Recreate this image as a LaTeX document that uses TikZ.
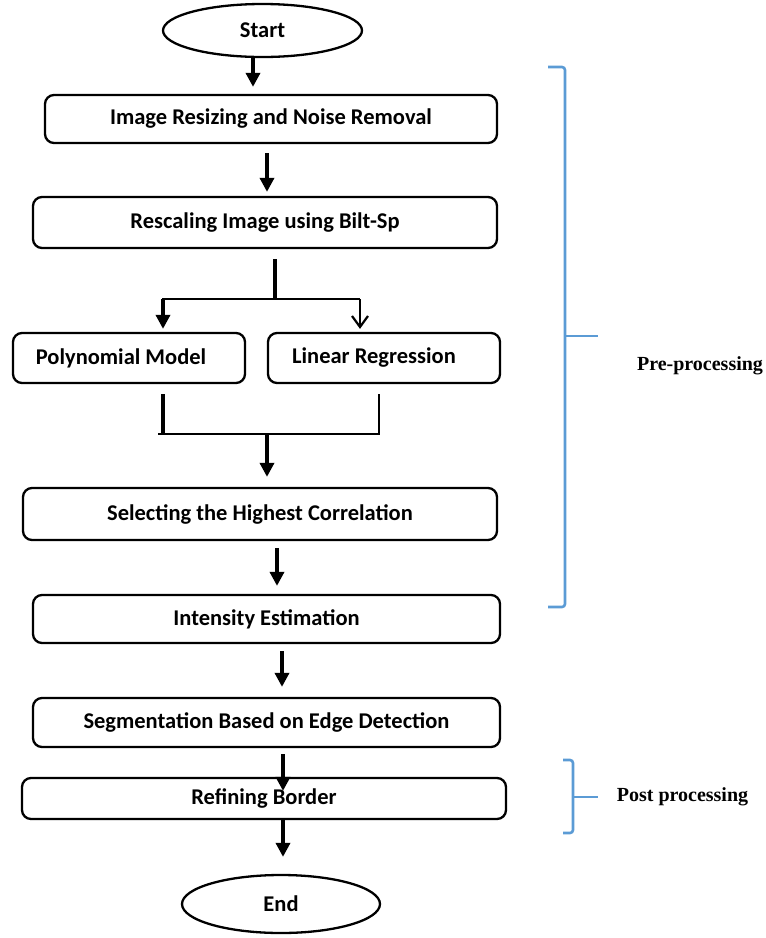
\documentclass[tikz,border=0pt]{standalone}
\usepackage{fontspec}
\setmainfont{Carlito}
\newfontfamily\timesfont{Liberation Serif}
\usetikzlibrary{arrows.meta,calc,shapes.geometric}
\definecolor{bracecol}{RGB}{91,155,213}
\begin{document}
\begin{tikzpicture}[x=1pt,y=-1pt,
  box/.style={draw, line width=2.3pt, rounded corners=9pt, inner sep=0pt,
    font=\bfseries\fontsize{22.5}{26}\selectfont},
  term/.style={draw, ellipse, line width=2.3pt, inner sep=0pt,
    font=\bfseries\fontsize{22.5}{26}\selectfont},
  arr/.style={line width=3.6pt, -{Triangle[width=14pt,length=14pt]}},
  openarr/.style={line width=2.2pt, -{Straight Barb[width=16pt,length=11pt,line width=2.2pt]}},
  thickln/.style={line width=3.6pt},
  thinln/.style={line width=2.3pt},
  bracket/.style={draw=bracecol, line width=2.6pt, rounded corners=3pt},
  lbl/.style={inner sep=0pt, font=\timesfont\bfseries\fontsize{20}{24}\selectfont}
]
\useasboundingbox (0,0) rectangle (766,938);

% nodes
\node[term, minimum width=199pt, minimum height=53pt] (start) at (262.5,30.5) {Start};
\node[box, minimum width=452pt, minimum height=48pt] (b1) at (271,119) {Image Resizing and Noise Removal};
\node[box, minimum width=464pt, minimum height=51pt] (b2) at (265,222.5) {Rescaling Image using Bilt-Sp};
\node[box, minimum width=232pt, minimum height=50pt] (poly) at (129,358) {\kern-16pt Polynomial Model};
\node[box, minimum width=232pt, minimum height=50pt] (lin) at (384,358) {\kern-20pt Linear Regression};
\node[box, minimum width=474pt, minimum height=52pt] (sel) at (260,514) {Selecting the Highest Correlation};
\node[box, minimum width=467pt, minimum height=48pt] (int) at (266.5,619) {Intensity Estimation};
\node[box, minimum width=467pt, minimum height=49pt] (seg) at (266.5,722.5) {Segmentation Based on Edge Detection};
\node[box, minimum width=484pt, minimum height=41pt] (ref) at (264,798.5) {Refining Border};
\node[term, minimum width=198pt, minimum height=58pt] (end) at (281,904) {End};

% connectors
\draw[arr, shorten >=7pt] ([xshift=-9.5pt]start.south) -- ([xshift=-9.5pt]start.south |- b1.north);
\draw[arr, shorten <=9pt, shorten >=4pt] ([xshift=-4pt]b1.south) -- ([xshift=-4pt]b1.south |- b2.north);

\coordinate (sp) at (275,299);
\draw[thickln, shorten <=10pt] ([xshift=10pt]b2.south) -- (sp);
\draw[thinln] ([xshift=33pt]poly.north |- sp) -- ([xshift=-24pt]lin.north |- sp);
\draw[arr, shorten >=3pt] ([xshift=34pt]poly.north |- sp) -- ([xshift=34pt]poly.north);
\draw[openarr, shorten >=3pt] ([xshift=-24pt]lin.north |- sp) -- ([xshift=-24pt]lin.north);

\coordinate (mg) at (267,434);
\draw[thickln, shorten <=10pt] ([xshift=34pt]poly.south) -- ([xshift=34pt]poly.south |- mg);
\draw[thinln, shorten <=10pt] ([xshift=-5pt]lin.south) -- ([xshift=-5pt]lin.south |- mg);
\draw[thinln] ([xshift=29pt]poly.south |- mg) -- ([xshift=-3.9pt]lin.south |- mg);
\draw[arr, shorten >=10pt] (mg) -- (mg |- sel.north);

\draw[arr, shorten <=7pt, shorten >=8pt] ([xshift=17pt]sel.south) -- ([xshift=17pt]sel.south |- int.north);
\draw[arr, shorten <=7pt, shorten >=10pt] ([xshift=15.5pt]int.south) -- ([xshift=15.5pt]int.south |- seg.north);
\draw[arr, shorten <=6pt] ([xshift=16.5pt]seg.south) -- ([xshift=16.5pt,yshift=-14pt]seg.south |- ref.north);
\draw[arr, shorten >=17pt] ([xshift=19pt]ref.south) -- ([xshift=19pt]ref.south |- end.north);

% brackets
\draw[bracket] (548,67) -- (565,67) -- (565,607) -- (548,607);
\draw[bracket] (565,336) -- (598,336);
\node[lbl] (pre) at (700,366) {Pre-processing};

\draw[bracket] (563,760) -- (573,760) -- (573,833) -- (563,833);
\draw[bracket] (573,797) -- (598,797);
\node[lbl] (post) at (682.5,797) {Post processing};
\end{tikzpicture}
\end{document}
